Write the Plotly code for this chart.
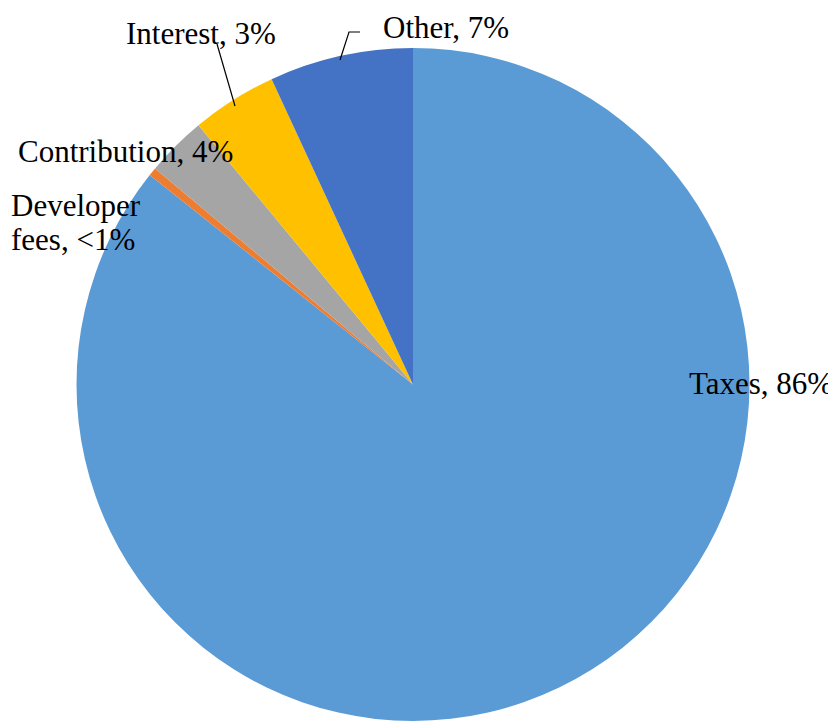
import plotly.graph_objects as go

categories = ["Taxes", "Developer fees", "Contribution", "Interest", "Other"]
values = [85.7, 0.4, 2.9, 4.1, 6.9]
label_texts = ["Taxes, 86%", "Developer<br>fees, <1%", "Contribution, 4%", "Interest, 3%", "Other, 7%"]
colors = ["#5B9BD5", "#ED7D31", "#A5A5A5", "#FFC000", "#4472C4"]

# browser body margin compensation
OFF = 8
W, H = 836 - OFF, 725 - OFF

def px(x, y):
    return (x - OFF) / W, 1 - (y - OFF) / H

x0, _ = px(76, 0)
x1, _ = px(750, 0)
_, y1 = px(0, 48)
_, y0 = px(0, 721)

fig = go.Figure(go.Pie(
    labels=categories, values=values, sort=False, direction="clockwise", rotation=0,
    marker=dict(colors=colors, line=dict(width=0)),
    textinfo="none", hoverinfo="label+percent", showlegend=False,
    domain=dict(x=[x0, x1], y=[y0, y1]),
))

font = dict(family="Liberation Serif, Times New Roman, serif", size=31, color="#000000")
# label anchor positions in reference pixels: list of (x, y, xanchor) per line
pos = {
    "Taxes": [(834, 383, "right")],
    "Developer fees": [(10, 205, "left"), (10, 240, "left")],
    "Contribution": [(17, 151, "left")],
    "Interest": [(125, 34, "left")],
    "Other": [(382, 28, "left")],
}
for cat, txt in zip(categories, label_texts):
    for (x, y, xa), part in zip(pos[cat], txt.split("<br>")):
        ax, ay = px(x, y)
        fig.add_annotation(x=ax, y=ay, xref="paper", yref="paper", text=part,
                           showarrow=False, xanchor=xa, yanchor="middle", align="left",
                           borderpad=0, font=font)

def line(pts):
    path = "M " + " L ".join("{:.5f},{:.5f}".format(*px(x, y)) for x, y in pts)
    fig.add_shape(type="path", path=path, xref="paper", yref="paper",
                  line=dict(color="#000000", width=1.2))

line([(217, 44), (235, 106)])
line([(360, 32), (349, 32), (340, 60)])

fig.update_layout(width=W, height=H, margin=dict(l=0, r=0, t=0, b=0),
                  paper_bgcolor="white", plot_bgcolor="white")
fig.write_html("out.html")
